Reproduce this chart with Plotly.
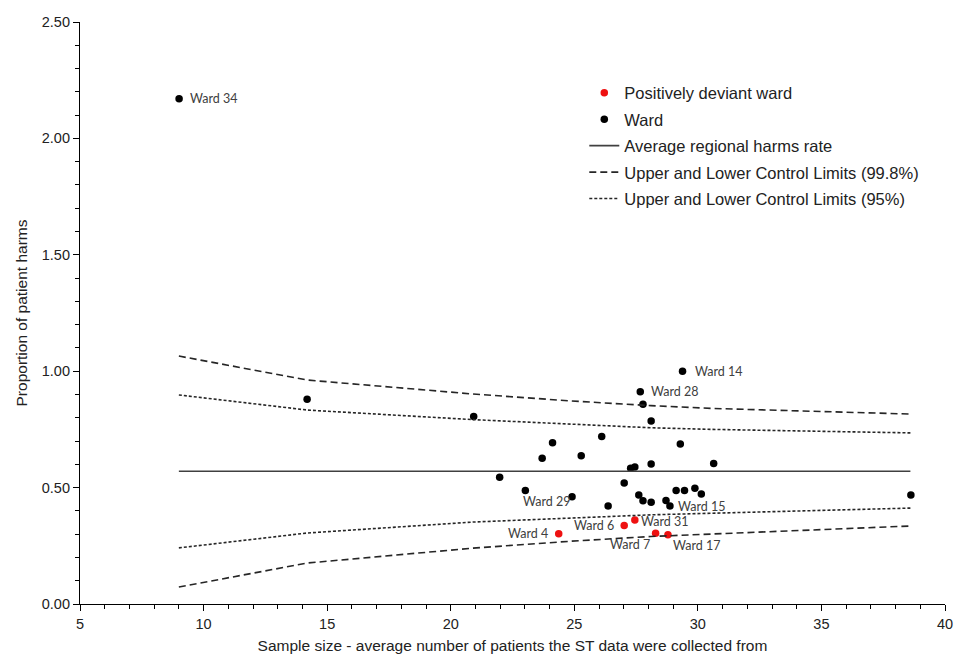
import plotly.graph_objects as go

# ---- data ----
ward_x = [9.01, 14.19, 20.93, 21.98, 23.02, 23.70, 24.12, 24.91, 25.28, 26.11, 26.37,
          27.02, 27.28, 27.45, 27.61, 27.67, 27.78, 27.78, 28.11, 28.11, 28.11, 28.71,
          28.87, 29.12, 29.29, 29.38, 29.46, 29.88, 30.14, 30.64, 38.62]
ward_y = [2.17, 0.88, 0.805, 0.544, 0.488, 0.626, 0.693, 0.461, 0.637, 0.720, 0.421,
          0.520, 0.583, 0.588, 0.468, 0.912, 0.858, 0.444, 0.786, 0.601, 0.437, 0.445,
          0.421, 0.488, 0.687, 1.00, 0.488, 0.497, 0.472, 0.604, 0.468]
ward_names = ["Ward 34", "", "", "", "", "", "", "Ward 29", "", "", "",
              "", "", "", "", "Ward 28", "", "", "", "", "", "",
              "Ward 15", "", "", "Ward 14", "", "", "", "", ""]

pd_x = [24.37, 27.02, 27.45, 28.29, 28.79]
pd_y = [0.302, 0.337, 0.361, 0.304, 0.298]
pd_names = ["Ward 4", "Ward 6", "Ward 31", "Ward 7", "Ward 17"]

limit_x = [9.0, 14.2, 20.9, 24.9, 28.1, 30.6, 38.6]
mean_y = [0.57, 0.57, 0.57, 0.57, 0.57, 0.57, 0.57]
ucl998 = [1.065, 0.962, 0.902, 0.872, 0.852, 0.840, 0.816]
lcl998 = [0.073, 0.176, 0.240, 0.270, 0.290, 0.300, 0.335]
ucl95 = [0.898, 0.833, 0.792, 0.771, 0.757, 0.750, 0.735]
lcl95 = [0.241, 0.305, 0.352, 0.370, 0.383, 0.390, 0.412]

x_ticks = [5, 10, 15, 20, 25, 30, 35, 40]
y_ticks = [0.0, 0.5, 1.0, 1.5, 2.0, 2.5]

# ---- label placement (styling) ----
label_style = {
    "Ward 34": dict(xanchor="left", xshift=9, yshift=0),
    "Ward 14": dict(xanchor="left", xshift=10, yshift=0),
    "Ward 28": dict(xanchor="left", xshift=9, yshift=0),
    "Ward 29": dict(xanchor="right", xshift=0, yshift=-5),
    "Ward 15": dict(xanchor="left", xshift=6, yshift=-1),
    "Ward 31": dict(xanchor="left", xshift=4, yshift=-2),
    "Ward 6": dict(xanchor="right", xshift=-8, yshift=0),
    "Ward 4": dict(xanchor="right", xshift=-9, yshift=0),
    "Ward 7": dict(xanchor="right", xshift=-4, yshift=-11),
    "Ward 17": dict(xanchor="left", xshift=3, yshift=-11),
}

LINE_COL = "#262626"
fig = go.Figure()

fig.add_trace(go.Scatter(x=pd_x, y=pd_y, mode="markers", name="Positively deviant ward",
                         marker=dict(color="#ee1111", size=7.5), legendgroup="a"))
fig.add_trace(go.Scatter(x=ward_x, y=ward_y, mode="markers", name="Ward",
                         marker=dict(color="#000000", size=7.5), legendgroup="b"))
fig.add_trace(go.Scatter(x=limit_x, y=mean_y, mode="lines", name="Average regional harms rate",
                         line=dict(color="#404040", width=1.6), legendgroup="c"))
fig.add_trace(go.Scatter(x=limit_x, y=ucl998, mode="lines",
                         name="Upper and Lower Control Limits (99.8%)",
                         line=dict(color=LINE_COL, width=1.6, dash="7px,4px"), legendgroup="d"))
fig.add_trace(go.Scatter(x=limit_x, y=lcl998, mode="lines", showlegend=False,
                         line=dict(color=LINE_COL, width=1.6, dash="7px,4px"), legendgroup="d"))
fig.add_trace(go.Scatter(x=limit_x, y=ucl95, mode="lines",
                         name="Upper and Lower Control Limits (95%)",
                         line=dict(color=LINE_COL, width=1.6, dash="3px,2px"), legendgroup="e"))
fig.add_trace(go.Scatter(x=limit_x, y=lcl95, mode="lines", showlegend=False,
                         line=dict(color=LINE_COL, width=1.6, dash="3px,2px"), legendgroup="e"))

annotations = []
for xs, ys, names in [(ward_x, ward_y, ward_names), (pd_x, pd_y, pd_names)]:
    for x, y, n in zip(xs, ys, names):
        if not n:
            continue
        st = label_style[n]
        annotations.append(dict(x=x, y=y, text=n, showarrow=False, xref="x", yref="y",
                                xanchor=st["xanchor"], yanchor="middle",
                                xshift=st["xshift"], yshift=st["yshift"],
                                font=dict(family="Lato", size=12.5, color="#404040")))

fig.update_layout(
    width=965, height=656,
    margin=dict(l=80, r=20, t=22, b=52),
    paper_bgcolor="white", plot_bgcolor="white",
    font=dict(family="Liberation Sans, Arial", color="#222222"),
    annotations=annotations,
    showlegend=True,
    legend=dict(x=0.583, y=0.908, xanchor="left", yanchor="top",
                font=dict(size=16.5, color="#222222"), bgcolor="rgba(0,0,0,0)",
                tracegroupgap=2),
    xaxis=dict(range=[5, 40], tickvals=x_ticks, ticktext=[str(v) for v in x_ticks],
               showgrid=False, zeroline=False, showline=True, linecolor="#000000",
               linewidth=1.2, ticks="outside", ticklen=6, tickcolor="#000000",
               tickfont=dict(size=14.5), automargin=False,
               minor=dict(dtick=1, ticks="outside", ticklen=4, tickcolor="#000000", showgrid=False),
               title=dict(text="Sample size - average number of patients the ST data were collected from",
                          font=dict(size=15.5), standoff=9)),
    yaxis=dict(range=[0, 2.5], tickvals=y_ticks, ticktext=["%.2f" % v for v in y_ticks],
               showgrid=False, zeroline=False, showline=True, linecolor="#000000",
               linewidth=1.2, ticks="outside", ticklen=6, tickcolor="#000000",
               tickfont=dict(size=14.5), automargin=False,
               minor=dict(dtick=0.1, ticks="outside", ticklen=4, tickcolor="#000000", showgrid=False),
               title=dict(text="Proportion of patient harms", font=dict(size=15.5), standoff=10)),
)

fig.write_html("out.html", config={"displayModeBar": False},
               post_script="document.body.style.margin='0';")
